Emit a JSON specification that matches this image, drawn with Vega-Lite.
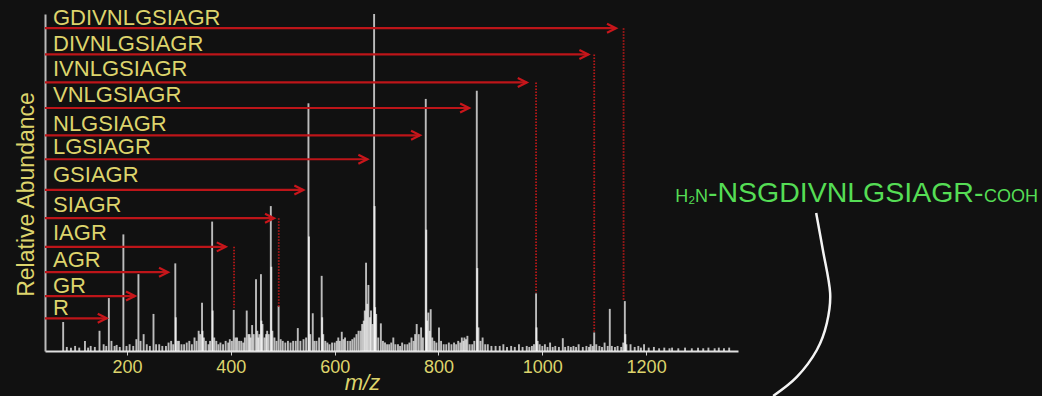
{
  "$schema": "https://vega.github.io/schema/vega-lite/v6.json",
  "width": 693,
  "height": 337,
  "autosize": {"type": "none"},
  "padding": {"left": 45, "top": 14, "right": 304, "bottom": 45},
  "background": "#111111",
  "config": {
    "view": {"stroke": null},
    "font": "Liberation Sans",
    "axis": {"labelFont": "Liberation Sans", "titleFont": "Liberation Sans", "grid": false}
  },
  "datasets": {
    "peaks": [
      {"mz":77,"intensity":8.6},{"mz":84,"intensity":1.2},{"mz":92,"intensity":1},{"mz":100,"intensity":1.5},{"mz":108,"intensity":1},{"mz":119,"intensity":3},{"mz":125,"intensity":1},{"mz":130,"intensity":1.5},{"mz":138,"intensity":1.2},{"mz":147,"intensity":6},{"mz":155,"intensity":2},{"mz":160,"intensity":1.5},{"mz":165,"intensity":15.7},{"mz":170,"intensity":3},{"mz":176,"intensity":1.5},{"mz":180,"intensity":1.8},{"mz":186,"intensity":1.2},{"mz":193,"intensity":34.6},{"mz":199,"intensity":1.5},{"mz":205,"intensity":2},{"mz":212,"intensity":1.5},{"mz":218,"intensity":3.5},{"mz":222,"intensity":22.8},{"mz":226,"intensity":3},{"mz":232,"intensity":5},{"mz":238,"intensity":2},{"mz":244,"intensity":1.5},{"mz":251,"intensity":11},{"mz":256,"intensity":2},{"mz":262,"intensity":2},{"mz":268,"intensity":1.5},{"mz":275,"intensity":1.5},{"mz":280,"intensity":2.5},{"mz":285,"intensity":3},{"mz":289,"intensity":2},{"mz":293,"intensity":26},{"mz":294,"intensity":10},{"mz":297,"intensity":3},{"mz":300,"intensity":3},{"mz":305,"intensity":2},{"mz":310,"intensity":2},{"mz":315,"intensity":2.5},{"mz":320,"intensity":3},{"mz":325,"intensity":2},{"mz":330,"intensity":4},{"mz":334,"intensity":3},{"mz":338,"intensity":6},{"mz":341,"intensity":5},{"mz":344.5,"intensity":14.3},{"mz":345.5,"intensity":6},{"mz":348,"intensity":4},{"mz":352,"intensity":3},{"mz":357,"intensity":2},{"mz":360,"intensity":3},{"mz":364,"intensity":38.4},{"mz":365,"intensity":12},{"mz":368,"intensity":4},{"mz":372,"intensity":3},{"mz":376,"intensity":2},{"mz":380,"intensity":2.5},{"mz":385,"intensity":2},{"mz":390,"intensity":3},{"mz":395,"intensity":2.5},{"mz":398,"intensity":3.5},{"mz":402,"intensity":3},{"mz":405.6,"intensity":12.2},{"mz":409,"intensity":4},{"mz":412,"intensity":4},{"mz":416,"intensity":3},{"mz":420,"intensity":3},{"mz":424,"intensity":2.5},{"mz":427,"intensity":4},{"mz":430.6,"intensity":12},{"mz":434,"intensity":5},{"mz":436,"intensity":5},{"mz":438,"intensity":4},{"mz":441,"intensity":7.7},{"mz":444,"intensity":5},{"mz":448.5,"intensity":21.3},{"mz":451,"intensity":6},{"mz":453,"intensity":4},{"mz":455,"intensity":5},{"mz":458,"intensity":22.8},{"mz":459,"intensity":9},{"mz":461,"intensity":8},{"mz":465,"intensity":4},{"mz":468,"intensity":5},{"mz":470,"intensity":6},{"mz":473,"intensity":5},{"mz":477,"intensity":43},{"mz":478,"intensity":25},{"mz":480,"intensity":6},{"mz":484,"intensity":4},{"mz":488,"intensity":3},{"mz":492,"intensity":13.4},{"mz":496,"intensity":3.5},{"mz":500,"intensity":3},{"mz":505,"intensity":2.5},{"mz":510,"intensity":3},{"mz":515,"intensity":2.5},{"mz":520,"intensity":3},{"mz":525,"intensity":3},{"mz":529,"intensity":6.8},{"mz":534,"intensity":3},{"mz":540,"intensity":3.5},{"mz":545,"intensity":4},{"mz":549.5,"intensity":73.5},{"mz":550.5,"intensity":34},{"mz":553,"intensity":5},{"mz":557.8,"intensity":11.2},{"mz":561,"intensity":3},{"mz":565,"intensity":3},{"mz":570,"intensity":4},{"mz":575,"intensity":22.3},{"mz":576,"intensity":10},{"mz":578,"intensity":5},{"mz":582,"intensity":3},{"mz":586,"intensity":2.5},{"mz":590,"intensity":2},{"mz":595,"intensity":2.5},{"mz":600,"intensity":2.5},{"mz":604,"intensity":3},{"mz":607,"intensity":4},{"mz":610,"intensity":3},{"mz":613.7,"intensity":5.7},{"mz":617,"intensity":3.5},{"mz":620,"intensity":4},{"mz":625,"intensity":3},{"mz":630,"intensity":3},{"mz":634,"intensity":3.5},{"mz":638,"intensity":4},{"mz":642,"intensity":5},{"mz":646,"intensity":6},{"mz":650,"intensity":6},{"mz":653,"intensity":8},{"mz":656,"intensity":9},{"mz":658,"intensity":12},{"mz":660.5,"intensity":26.2},{"mz":663,"intensity":14},{"mz":665,"intensity":19.6},{"mz":668,"intensity":10},{"mz":670,"intensity":12},{"mz":673,"intensity":8},{"mz":676,"intensity":100},{"mz":677,"intensity":43},{"mz":678,"intensity":13},{"mz":680,"intensity":11},{"mz":684,"intensity":4},{"mz":689,"intensity":8.2},{"mz":693,"intensity":3},{"mz":697,"intensity":2.5},{"mz":701,"intensity":2},{"mz":705,"intensity":2},{"mz":709,"intensity":2.5},{"mz":713,"intensity":4},{"mz":717,"intensity":2},{"mz":722,"intensity":2},{"mz":726,"intensity":1.5},{"mz":730,"intensity":2.5},{"mz":735,"intensity":2},{"mz":740,"intensity":2},{"mz":744,"intensity":2.5},{"mz":748,"intensity":4},{"mz":752,"intensity":3},{"mz":755,"intensity":5},{"mz":758,"intensity":8},{"mz":762,"intensity":5},{"mz":766.5,"intensity":7},{"mz":770,"intensity":4},{"mz":775.5,"intensity":74.8},{"mz":776.5,"intensity":36},{"mz":778,"intensity":9},{"mz":780.5,"intensity":11.4},{"mz":783,"intensity":6},{"mz":785,"intensity":12.4},{"mz":788,"intensity":4},{"mz":792,"intensity":3},{"mz":796,"intensity":2.5},{"mz":801,"intensity":7},{"mz":805,"intensity":3},{"mz":810,"intensity":2},{"mz":815,"intensity":2},{"mz":820,"intensity":2.5},{"mz":825,"intensity":2},{"mz":830,"intensity":2.5},{"mz":834,"intensity":2},{"mz":838,"intensity":3},{"mz":842,"intensity":2.5},{"mz":845,"intensity":4},{"mz":848,"intensity":3},{"mz":850,"intensity":4},{"mz":853,"intensity":3.5},{"mz":855.7,"intensity":4.5},{"mz":860,"intensity":2},{"mz":865,"intensity":2},{"mz":869,"intensity":3},{"mz":873.8,"intensity":77.2},{"mz":874.8,"intensity":24.6},{"mz":877,"intensity":7},{"mz":881,"intensity":3},{"mz":885,"intensity":4},{"mz":890,"intensity":2},{"mz":895,"intensity":2},{"mz":902,"intensity":1.5},{"mz":910,"intensity":1.5},{"mz":918,"intensity":1.5},{"mz":925,"intensity":2},{"mz":932,"intensity":1.2},{"mz":940,"intensity":1.5},{"mz":947,"intensity":1.2},{"mz":955,"intensity":2},{"mz":962,"intensity":1.2},{"mz":970,"intensity":1.5},{"mz":975,"intensity":1.2},{"mz":980,"intensity":1.5},{"mz":984,"intensity":2},{"mz":988,"intensity":17.1},{"mz":989,"intensity":7},{"mz":991,"intensity":3},{"mz":995,"intensity":2},{"mz":1000,"intensity":1.5},{"mz":1005,"intensity":2},{"mz":1010,"intensity":1.2},{"mz":1015,"intensity":2.5},{"mz":1020,"intensity":1.2},{"mz":1025,"intensity":1.5},{"mz":1032,"intensity":1.2},{"mz":1039.5,"intensity":3.8},{"mz":1044,"intensity":1.2},{"mz":1050,"intensity":1.5},{"mz":1055,"intensity":1.2},{"mz":1060,"intensity":1.5},{"mz":1065,"intensity":1.2},{"mz":1070,"intensity":2},{"mz":1078,"intensity":1.2},{"mz":1085,"intensity":1.5},{"mz":1090,"intensity":1.2},{"mz":1093,"intensity":2},{"mz":1097,"intensity":1.5},{"mz":1100,"intensity":5.5},{"mz":1104,"intensity":2},{"mz":1110,"intensity":1.5},{"mz":1115,"intensity":1.2},{"mz":1120,"intensity":2.5},{"mz":1126,"intensity":1.5},{"mz":1130,"intensity":12.5},{"mz":1134,"intensity":1.5},{"mz":1140,"intensity":1.2},{"mz":1145,"intensity":1.5},{"mz":1152,"intensity":1.2},{"mz":1156,"intensity":2.5},{"mz":1159,"intensity":14.8},{"mz":1160,"intensity":5},{"mz":1162,"intensity":2},{"mz":1170,"intensity":2},{"mz":1178,"intensity":1.2},{"mz":1185,"intensity":1.5},{"mz":1190,"intensity":1},{"mz":1196,"intensity":2},{"mz":1205,"intensity":1},{"mz":1215,"intensity":1.2},{"mz":1225,"intensity":0.8},{"mz":1235,"intensity":1},{"mz":1245,"intensity":0.8},{"mz":1250,"intensity":1},{"mz":1262,"intensity":0.8},{"mz":1275,"intensity":1},{"mz":1288,"intensity":0.8},{"mz":1300,"intensity":1},{"mz":1310,"intensity":0.8},{"mz":1320,"intensity":1},{"mz":1332,"intensity":0.8},{"mz":1340,"intensity":1},{"mz":1350,"intensity":0.8},{"mz":1360,"intensity":1}
    ],
    "ions": [
      {"ion":"GDIVNLGSIAGR","start":42,"label_mz":57.4,"tip":1142,"level":95.8,"label_level":96.7},
      {"ion":"DIVNLGSIAGR","start":42,"label_mz":57.4,"tip":1088.8,"level":88.0,"label_level":89.0},
      {"ion":"IVNLGSIAGR","start":42,"label_mz":57.4,"tip":970.1,"level":79.7,"label_level":81.6},
      {"ion":"VNLGSIAGR","start":42,"label_mz":57.4,"tip":859,"level":72.1,"label_level":73.9},
      {"ion":"NLGSIAGR","start":42,"label_mz":57.4,"tip":764.5,"level":64.0,"label_level":65.4},
      {"ion":"LGSIAGR","start":42,"label_mz":57.4,"tip":663,"level":56.9,"label_level":58.5},
      {"ion":"GSIAGR","start":42,"label_mz":57.4,"tip":539.7,"level":47.8,"label_level":50.2},
      {"ion":"SIAGR","start":42,"label_mz":57.4,"tip":483.2,"level":39.4,"label_level":41.2},
      {"ion":"IAGR","start":42,"label_mz":57.4,"tip":390.2,"level":30.9,"label_level":32.9},
      {"ion":"AGR","start":42,"label_mz":57.4,"tip":279,"level":23.4,"label_level":24.9},
      {"ion":"GR","start":42,"label_mz":57.4,"tip":215.4,"level":16.3,"label_level":17.3},
      {"ion":"R","start":42,"label_mz":57.4,"tip":160.9,"level":9.7,"label_level":10.7}
    ],
    "dotted": [
      {"mz":1156.6,"from":95.8,"to":15.1},
      {"mz":1100,"from":88.0,"to":5.7},
      {"mz":988,"from":79.7,"to":17.2},
      {"mz":492.3,"from":39.4,"to":13.1},
      {"mz":406.2,"from":30.9,"to":12.8}
    ],
    "peptide_small": [
      {"text":"H₂N","mz":1255.9,"level":44.3},
      {"text":"COOH","mz":1851,"level":44.3}
    ],
    "peptide_main": [
      {"text":"-NSGDIVNLGSIAGR-","mz":1319,"level":44.3}
    ],
    "curve": [
      {"i":0,"mz":1527.6,"v":40.95},
      {"i":1,"mz":1540.5,"v":29.97},
      {"i":2,"mz":1554.5,"v":17.2},
      {"i":3,"mz":1548.2,"v":8.3},
      {"i":4,"mz":1528.9,"v":0.3},
      {"i":5,"mz":1490.4,"v":-7.7},
      {"i":6,"mz":1444.7,"v":-13.35}
    ]
  },
  "layer": [
    {
      "data": {"name": "peaks"},
      "mark": {"type": "rule", "color": "#ffffff", "opacity": 0.72, "strokeWidth": 1.9},
      "encoding": {
        "x": {
          "field": "mz", "type": "quantitative",
          "scale": {"domain": [42, 1377], "nice": false, "zero": false},
          "axis": {
            "title": "m/z",
            "values": [200, 400, 600, 800, 1000, 1200],
            "format": "d",
            "domainColor": "#e0e0e0",
            "domainWidth": 2,
            "tickColor": "#d0d0d0",
            "tickSize": 4,
            "tickWidth": 1,
            "labelColor": "#ddd46c",
            "labelFontSize": 18,
            "labelPadding": 3,
            "titleColor": "#ddd46c",
            "titleFontSize": 22,
            "titleFontStyle": "italic",
            "titleFontWeight": "normal",
            "titleX": 317,
            "titleY": 38,
            "titleBaseline": "alphabetic"
          }
        },
        "y": {
          "field": "intensity", "type": "quantitative",
          "scale": {"domain": [0, 100], "nice": false},
          "axis": {
            "title": "Relative Abundance",
            "labels": false,
            "ticks": false,
            "domainColor": "#bbbbbb",
            "domainWidth": 2,
            "titleColor": "#ddd46c",
            "titleFontSize": 23,
            "titleFontWeight": "normal",
            "titlePadding": 7,
            "titleY": 180
          }
        },
        "y2": {"datum": 0}
      }
    },
    {
      "data": {"name": "dotted"},
      "mark": {"type": "rule", "color": "#b81818", "strokeWidth": 1.8, "strokeDash": [1.5, 1.5]},
      "encoding": {
        "x": {"field": "mz", "type": "quantitative"},
        "y": {"field": "from", "type": "quantitative"},
        "y2": {"field": "to"}
      }
    },
    {
      "data": {"name": "ions"},
      "mark": {"type": "rule", "color": "#bd1519", "strokeWidth": 2.2},
      "encoding": {
        "x": {"field": "start", "type": "quantitative"},
        "x2": {"field": "tip"},
        "y": {"field": "level", "type": "quantitative"}
      }
    },
    {
      "data": {"name": "ions"},
      "mark": {"type": "point", "shape": "M-1.8,-0.9L0,0L-1.8,0.9", "filled": false, "size": 100, "stroke": "#c8161b", "strokeWidth": 2.2, "opacity": 1},
      "encoding": {
        "x": {"field": "tip", "type": "quantitative"},
        "y": {"field": "level", "type": "quantitative"}
      }
    },
    {
      "data": {"name": "ions"},
      "mark": {"type": "text", "align": "left", "baseline": "alphabetic", "fontSize": 22, "color": "#ddd46c", "font": "Liberation Sans"},
      "encoding": {
        "x": {"field": "label_mz", "type": "quantitative"},
        "y": {"field": "label_level", "type": "quantitative"},
        "text": {"field": "ion"}
      }
    },
    {
      "data": {"name": "peptide_small"},
      "mark": {"type": "text", "align": "left", "baseline": "alphabetic", "fontSize": 18, "color": "#55dd55", "font": "Liberation Sans"},
      "encoding": {
        "x": {"field": "mz", "type": "quantitative"},
        "y": {"field": "level", "type": "quantitative"},
        "text": {"field": "text"}
      }
    },
    {
      "data": {"name": "peptide_main"},
      "mark": {"type": "text", "align": "left", "baseline": "alphabetic", "fontSize": 28.5, "color": "#55dd55", "font": "Liberation Sans"},
      "encoding": {
        "x": {"field": "mz", "type": "quantitative"},
        "y": {"field": "level", "type": "quantitative"},
        "text": {"field": "text"}
      }
    },
    {
      "data": {"name": "curve"},
      "mark": {"type": "line", "color": "#f4f4f4", "strokeWidth": 2.5, "interpolate": "cardinal"},
      "encoding": {
        "x": {"field": "mz", "type": "quantitative"},
        "y": {"field": "v", "type": "quantitative"},
        "order": {"field": "i", "type": "quantitative"}
      }
    }
  ]
}
